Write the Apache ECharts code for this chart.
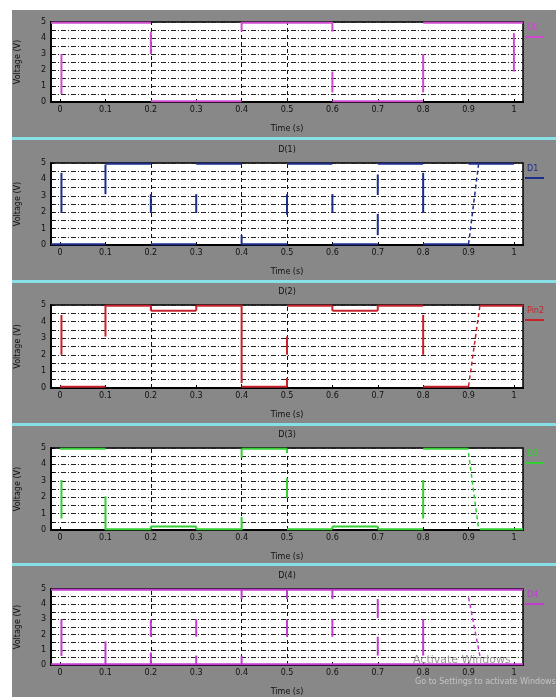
<!DOCTYPE html>
<html><head><meta charset="utf-8">
<script src="https://cdn.jsdelivr.net/npm/echarts@6/dist/echarts.min.js"></script>
<style>html,body{margin:0;padding:0;background:#fff}#c{width:556px;height:697px}</style>
</head><body><div id="c"></div>
<script>
// ---- data ----
const xTicks = [0, 0.1, 0.2, 0.3, 0.4, 0.5, 0.6, 0.7, 0.8, 0.9, 1.0];
const markTimes = [0.2, 0.4, 0.5];
const panelTitles = ['', 'D(1)', 'D(2)', 'D(3)', 'D(4)'];
const legendNames = ['D0', 'D1', 'Pin2', 'D3', 'D4'];

// horizontal levels: [t0, t1, volts]
const d0Levels = [[-0.02,0.2,4.95],[0.2,0.4,0.05],[0.4,0.6,4.95],[0.6,0.8,0.05],[0.8,1.02,4.95]];
// vertical edges: [t, v0, v1]
const d0Edges = [[0.003,3.0,0.5],[0.2,4.4,3.0],[0.4,5,4.4],[0.6,5,4.4],[0.6,1.9,0.6],[0.8,3.0,0.6],[1.0,4.3,1.9]];
// dashed ramps: [t0, v0, t1, v1]
const d0Ramps = [];

const d1Levels = [[-0.02,0.1,0.05],[0.1,0.2,4.95],[0.2,0.3,0.05],[0.3,0.4,4.95],[0.4,0.5,0.05],[0.5,0.6,4.95],[0.6,0.7,0.05],[0.7,0.8,4.95],[0.8,0.9,0.05],[0.9,1.0,4.95]];
const d1Edges = [[0.003,4.4,1.95],[0.1,4.9,3.1],[0.2,3.1,1.95],[0.3,3.1,1.95],[0.4,0.6,0],[0.5,3.1,1.85],[0.6,3.1,1.95],[0.7,4.3,3.05],[0.7,1.9,0.6],[0.8,4.4,1.95]];
const d1Ramps = [[0.9,0.05,0.922,4.9]];

const d2Levels = [[0,0.1,0.08],[0.1,0.2,4.95],[0.2,0.3,4.65],[0.3,0.4,4.95],[0.4,0.5,0.08],[0.5,0.6,4.95],[0.6,0.7,4.65],[0.7,0.8,4.95],[0.8,0.9,0.08],[0.925,1.02,4.95]];
const d2Edges = [[0.003,4.4,2.0],[0.1,5,3.1],[0.2,4.95,4.65],[0.3,4.95,4.65],[0.4,5,0.3],[0.5,0.08,0.6],[0.5,3.1,2.0],[0.6,4.95,4.65],[0.7,4.95,4.65],[0.8,4.4,2.0]];
const d2Ramps = [[0.9,0.1,0.925,4.95]];

const d3Levels = [[0,0.1,4.95],[0.1,0.2,0.05],[0.2,0.3,0.22],[0.3,0.4,0.05],[0.4,0.5,4.95],[0.5,0.6,0.05],[0.6,0.7,0.22],[0.7,0.8,0.05],[0.8,0.9,4.95],[0.925,1.02,0.05]];
const d3Edges = [[0.003,3.05,0.7],[0.1,2.05,0],[0.2,0.05,0.22],[0.3,0.05,0.22],[0.4,4.95,4.4],[0.4,0.8,0],[0.5,4.95,4.7],[0.5,3.15,1.95],[0.6,0.05,0.22],[0.7,0.05,0.22],[0.8,3.05,0.7]];
const d3Ramps = [[0.9,4.7,0.922,0.1]];

const d4Levels = [[-0.02,1.02,4.95],[-0.02,1.02,0.05]];
const d4Edges = [[0.003,3.0,0.6],[0.1,1.55,0],[0.2,3.0,1.86],[0.2,0.83,0],[0.3,3.0,1.86],[0.3,0.62,0],[0.4,5,4.34],[0.4,0.6,0],[0.5,5,4.34],[0.5,3.0,1.86],[0.6,5,4.34],[0.6,3.0,1.86],[0.7,4.34,3.1],[0.7,1.86,0.62],[0.8,3.0,0.62]];
const d4Ramps = [[0.9,4.45,0.925,0.6]];

// ---- layout ----
const panels = [
  {levels:d0Levels, edges:d0Edges, ramps:d0Ramps, color:'#d04ad0', top:22, bottom:102},
  {levels:d1Levels, edges:d1Edges, ramps:d1Ramps, color:'#1d2d8c', top:163, bottom:245},
  {levels:d2Levels, edges:d2Edges, ramps:d2Ramps, color:'#c8232c', top:305, bottom:388},
  {levels:d3Levels, edges:d3Edges, ramps:d3Ramps, color:'#34cf34', top:448, bottom:530},
  {levels:d4Levels, edges:d4Edges, ramps:d4Ramps, color:'#c23cd0', top:589, bottom:670}
];
const FONT = 'DejaVu Sans';
const L = 51, R = 523;

const option = {
  animation:false, backgroundColor:'#888888',
  grid:[], xAxis:[], yAxis:[], series:[],
  graphic:[
    {type:'rect', shape:{x:0,y:0,width:12,height:697}, style:{fill:'#fff'}},
    {type:'rect', shape:{x:0,y:0,width:556,height:10}, style:{fill:'#fff'}}
  ]
};
[137, 280, 423, 563].forEach(y => {
  option.graphic.push({type:'rect', shape:{x:12,y:y,width:544,height:3}, style:{fill:'#86e0e6'}});
});

panels.forEach((p, i) => {
  option.grid.push({left:L, right:556-R, top:p.top, height:p.bottom-p.top, show:true,
    backgroundColor:'#fff', borderColor:'#000', borderWidth:1.5});
  option.xAxis.push({type:'value', gridIndex:i, min:-0.02, max:1.02,
    name:'Time (s)', nameLocation:'middle', nameGap:23,
    nameTextStyle:{fontFamily:FONT, fontSize:8, color:'#111'},
    axisLine:{show:true, onZero:false, lineStyle:{color:'#000', width:2}},
    axisTick:{show:true, inside:true, length:3, customValues:xTicks, lineStyle:{color:'#000'}},
    axisLabel:{customValues:xTicks, fontFamily:FONT, fontSize:8, color:'#111', margin:4,
      formatter:v => String(+(+v).toFixed(1))},
    splitLine:{show:false}});
  option.yAxis.push({type:'value', gridIndex:i, min:0, max:5, interval:0.5,
    name:'Voltage (V)', nameLocation:'middle', nameGap:29, nameRotate:90,
    nameTextStyle:{fontFamily:FONT, fontSize:8, color:'#111'},
    axisLine:{show:true, onZero:false, lineStyle:{color:'#000', width:2}},
    axisTick:{show:true, inside:true, length:3, lineStyle:{color:'#000'}},
    axisLabel:{fontFamily:FONT, fontSize:8, color:'#111', margin:5,
      formatter:v => (Math.abs(v - Math.round(v)) < 1e-6 ? String(Math.round(v)) : '')},
    splitLine:{show:true, lineStyle:{color:'#222', type:[5,2,1,2], width:1}}});

  p.levels.forEach((l, k) => {
    const s = {type:'line', xAxisIndex:i, yAxisIndex:i, symbol:'none', silent:true, z:3,
      data:[[l[0], l[2]], [l[1], l[2]]], lineStyle:{color:p.color, width:2}};
    if (k === 0) {
      s.markLine = {symbol:'none', silent:true, label:{show:false}, z:2,
        lineStyle:{color:'#111', type:[4,3], width:1},
        data:markTimes.map(t => ({xAxis:t}))};
    }
    option.series.push(s);
  });
  p.edges.forEach(e => {
    option.series.push({type:'line', xAxisIndex:i, yAxisIndex:i, symbol:'none', silent:true, z:3,
      data:[[e[0], e[1]], [e[0], e[2]]], lineStyle:{color:p.color, width:2}});
  });
  p.ramps.forEach(r => {
    option.series.push({type:'line', xAxisIndex:i, yAxisIndex:i, symbol:'none', silent:true, z:3,
      data:[[r[0], r[1]], [r[2], r[3]]], lineStyle:{color:p.color, width:1.5, type:[4,3]}});
  });

  if (panelTitles[i]) {
    option.graphic.push({type:'text', x:(L+R)/2, y:p.top-13,
      style:{text:panelTitles[i], fill:'#111', font:'8px "DejaVu Sans"', align:'center', verticalAlign:'middle'}});
  }
  option.graphic.push({type:'text', x:527, y:p.top+6,
    style:{text:legendNames[i], fill:p.color, font:'8px "DejaVu Sans"', align:'left', verticalAlign:'middle'}});
  option.graphic.push({type:'line', shape:{x1:525, y1:p.top+15, x2:544, y2:p.top+15},
    style:{stroke:p.color, lineWidth:2}});
});

option.graphic.push({type:'text', x:413, y:660, z:100,
  style:{text:'Activate Windows', fill:'#9a9a9a', font:'11px "DejaVu Sans"', verticalAlign:'middle'}});
option.graphic.push({type:'text', x:415, y:682, z:100,
  style:{text:'Go to Settings to activate Windows.', fill:'#c4c4c4', font:'8px "DejaVu Sans"', verticalAlign:'middle'}});

const chart = echarts.init(document.getElementById('c'), null, {renderer:'canvas'});
chart.setOption(option);
</script></body></html>
